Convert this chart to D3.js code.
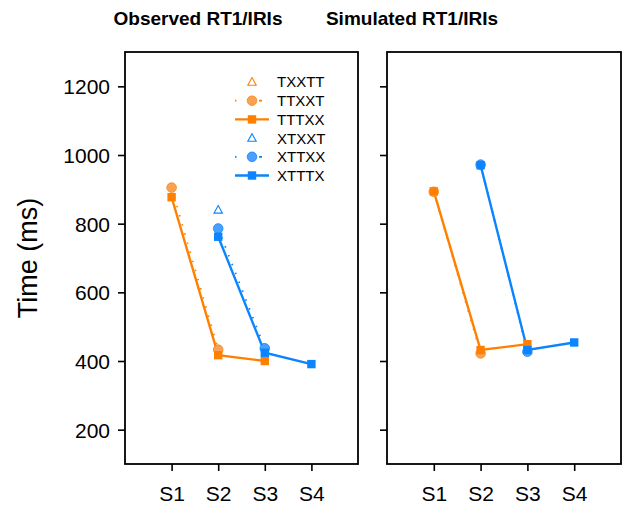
<!DOCTYPE html>
<html>
<head>
  <meta charset="utf-8">
  <script src="https://d3js.org/d3.v7.min.js"></script>
  <style>
    body { margin: 0; background: #fff; }
    text { font-family: "Liberation Sans", Arial, sans-serif; fill: #000; }
  </style>
</head>
<body>
<div id="chart"></div>
<script>
// stages on the x axis and y ticks
var stages = ["S1", "S2", "S3", "S4"];
var yTicks = [200, 400, 600, 800, 1000, 1200];
var seriesNames = ["TXXTT", "TTXXT", "TTTXX", "XTXXT", "XTTXX", "XTTTX"];

// observed values (ms), one per stage, null = no data
var obsTXXTT = [null, null, null, null];
var obsTTXXT = [905, 433, null, null];
var obsTTTXX = [877, 417, 400, null];
var obsXTXXT = [null, 840, null, null];
var obsXTTXX = [null, 786, 437, null];
var obsXTTTX = [null, 762, 424, 391];

// simulated values (ms)
var simTTXXT = [893, 422, null, null];
var simTTTXX = [894, 432, 449, null];
var simXTTXX = [null, 972, 427, null];
var simXTTTX = [null, 970, 432, 454];

var orange = '#ff8000', orangeLight = '#f9a255';
var blue = '#0a84ff', blueLight = '#4aa0ff';

// style per series: marker, colour, line type
var styles = {
  TXXTT: { marker: 'tri', color: orange, fill: 'none', line: 'none' },
  TTXXT: { marker: 'circle', color: orange, fill: orangeLight, line: 'dot' },
  TTTXX: { marker: 'square', color: orange, fill: orange, line: 'solid' },
  XTXXT: { marker: 'tri', color: blue, fill: 'none', line: 'none' },
  XTTXX: { marker: 'circle', color: blue, fill: blueLight, line: 'dot' },
  XTTTX: { marker: 'square', color: blue, fill: blue, line: 'solid' }
};

var W = 626, H = 508;
var svg = d3.select('#chart').append('svg')
  .attr('width', W).attr('height', H);

var y = d3.scaleLinear().domain([100, 1300]).range([464, 52]);

function drawMarker(g, type, cx, cy, st) {
  if (type === 'circle') {
    g.append('circle').attr('cx', cx).attr('cy', cy).attr('r', 4.8)
      .attr('fill', st.fill).attr('stroke', st.color).attr('stroke-width', 0.8);
  } else if (type === 'square') {
    g.append('rect').attr('x', cx - 4.2).attr('y', cy - 4.2)
      .attr('width', 8.4).attr('height', 8.4).attr('fill', st.fill);
  } else if (type === 'tri') {
    g.append('path').attr('transform', 'translate(' + cx + ',' + cy + ')')
      .attr('d', 'M0,-4.4L4.2,3.2L-4.2,3.2Z')
      .attr('fill', 'none').attr('stroke', st.color).attr('stroke-width', 1.1);
  }
}

function panel(x0, x1, title, titleX, series, showLabels) {
  var x = d3.scaleLinear().domain([0, 5]).range([x0, x1]);
  var g = svg.append('g');

  g.append('text').attr('x', titleX).attr('y', 25)
    .attr('text-anchor', 'middle').style('font-size', '19px').style('font-weight', 'bold')
    .text(title);

  // y axis
  var yAxis = g.append('g').attr('transform', 'translate(' + x0 + ',0)')
    .call(d3.axisLeft(y).tickValues(yTicks).tickSize(7).tickSizeOuter(0)
      .tickFormat(showLabels ? d3.format('d') : ''));
  yAxis.select('.domain').remove();
  yAxis.selectAll('line').attr('stroke', '#000').attr('stroke-width', 1.6);
  yAxis.selectAll('text').style('font-size', '21px').attr('x', -15).attr('dy', '0.36em');

  // x axis
  var xAxis = g.append('g').attr('transform', 'translate(0,464)')
    .call(d3.axisBottom(x).tickValues([1, 2, 3, 4]).tickSize(7)
      .tickFormat(function(d) { return stages[d - 1]; }));
  xAxis.select('.domain').remove();
  xAxis.selectAll('line').attr('stroke', '#000').attr('stroke-width', 1.6);
  xAxis.selectAll('text').style('font-size', '21px').attr('y', 22).attr('dy', '0.71em');

  // box frame
  g.append('rect').attr('x', x0).attr('y', 52).attr('width', x1 - x0).attr('height', 412)
    .attr('fill', 'none').attr('stroke', '#000').attr('stroke-width', 1.8);

  var line = d3.line()
    .defined(function(d) { return d != null; })
    .x(function(d, i) { return x(i + 1); })
    .y(function(d) { return y(d); });

  // draw lines first (dotted then solid), then markers
  series.forEach(function(s) {
    var st = styles[s.name];
    if (st.line === 'none') return;
    g.append('path').datum(s.values).attr('d', line)
      .attr('fill', 'none').attr('stroke', st.color)
      .attr('stroke-width', st.line === 'dot' ? 1.8 : 2.4)
      .attr('stroke-dasharray', st.line === 'dot' ? '1.5,8' : null);
  });
  series.forEach(function(s) {
    var st = styles[s.name];
    s.values.forEach(function(v, i) {
      if (v == null) return;
      drawMarker(g, st.marker, x(i + 1), y(v), st);
    });
  });
}

panel(125, 358, 'Observed RT1/IRIs', 198, [
  { name: 'TXXTT', values: obsTXXTT },
  { name: 'TTXXT', values: obsTTXXT },
  { name: 'XTXXT', values: obsXTXXT },
  { name: 'XTTXX', values: obsXTTXX },
  { name: 'TTTXX', values: obsTTTXX },
  { name: 'XTTTX', values: obsXTTTX }
], true);

panel(387, 621, 'Simulated RT1/IRIs', 412, [
  { name: 'TTXXT', values: simTTXXT },
  { name: 'XTTXX', values: simXTTXX },
  { name: 'TTTXX', values: simTTTXX },
  { name: 'XTTTX', values: simXTTTX }
], false);

// y axis title
svg.append('text')
  .attr('transform', 'translate(37,258) rotate(-90)')
  .attr('text-anchor', 'middle').style('font-size', '27px')
  .text('Time (ms)');

// legend
var legend = svg.append('g');
seriesNames.forEach(function(name, i) {
  var st = styles[name];
  var ly = 82 + i * 18.7;
  var row = legend.append('g');
  if (st.line === 'solid') {
    row.append('line').attr('x1', 235).attr('x2', 269).attr('y1', ly).attr('y2', ly)
      .attr('stroke', st.color).attr('stroke-width', 2.4);
  } else if (st.line === 'dot') {
    row.append('line').attr('x1', 235).attr('x2', 262).attr('y1', ly).attr('y2', ly)
      .attr('stroke', st.color).attr('stroke-width', 1.8).attr('stroke-dasharray', '1.5,24');
    row.append('line').attr('x1', 259).attr('x2', 261).attr('y1', ly).attr('y2', ly)
      .attr('stroke', st.color).attr('stroke-width', 1.8);
  }
  drawMarker(row, st.marker, 252, ly, st);
  row.append('text').attr('x', 277).attr('y', ly).attr('dy', '0.36em')
    .style('font-size', '15px').text(name);
});
</script>
</body>
</html>
